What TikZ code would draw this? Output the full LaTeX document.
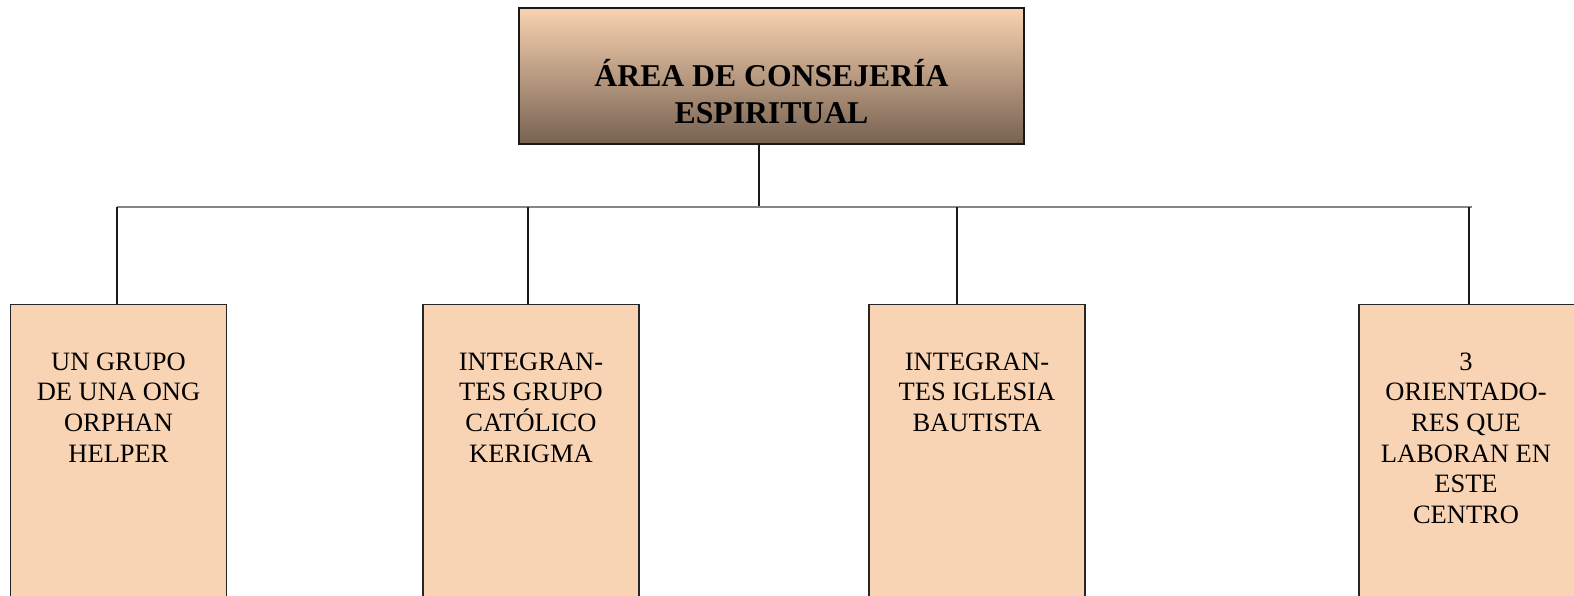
\documentclass[tikz,border=0pt]{standalone}
\usepackage{fontspec}
\setmainfont{Liberation Serif}
\definecolor{peach}{HTML}{F9D4B4}
\definecolor{peachtop}{HTML}{F9D2B1}
\definecolor{umber}{HTML}{766251}
\definecolor{busgray}{HTML}{858585}
\begin{document}
\begin{tikzpicture}[x=1pt,y=-1pt,
    topbox/.style={draw=black!90,line width=1.2pt,top color=peachtop,bottom color=umber,
      minimum width=505pt,minimum height=136pt,inner sep=0pt},
    subbox/.style={draw=black!85,line width=1.2pt,fill=peach,anchor=north,
      minimum width=216pt,minimum height=320pt,inner sep=0pt},
    toptext/.style={inner sep=0pt,anchor=north,align=center,font=\fontsize{31.7}{36.8}\selectfont\bfseries},
    subtext/.style={inner sep=0pt,anchor=north,align=center,font=\fontsize{26.5}{30.6}\selectfont},
    conn/.style={line width=1.3pt,black!90},
    bus/.style={line width=1.5pt,busgray}]
    \clip (0,0) rectangle (1574,596);
    \node[topbox] (area) at (771.5,76) {};
    \node[toptext] (areat) at (771.5,59) {ÁREA DE CONSEJERÍA\\ESPIRITUAL};
    \node[subbox] (ong) at (118.5,304) {};
    \node[subbox] (kerigma) at (531,304) {};
    \node[subbox] (bautista) at (977,304) {};
    \node[subbox] (orient) at (1467,304) {};
    \node[subtext] (ongt) at (118.5,352.5) {UN GRUPO\\DE UNA ONG\\ORPHAN\\HELPER};
    \node[subtext] (kerigmat) at (531,352.5) {INTEGRAN-\\TES GRUPO\\CATÓLICO\\KERIGMA};
    \node[subtext] (bautistat) at (977,352.5) {INTEGRAN-\\TES IGLESIA\\BAUTISTA};
    \node[subtext] (orientt) at (1466,352.5) {3\\ORIENTADO-\\RES QUE\\LABORAN EN\\ESTE\\CENTRO};
    \coordinate (hub) at (759,207);
    \coordinate (d1) at (117,207);
    \coordinate (d2) at (528,207);
    \coordinate (d3) at (957,207);
    \coordinate (d4) at (1469,207);
    \coordinate (busend) at (1472,207);
    \draw[conn] (hub |- area.south) -- (hub);
    \draw[bus] (d1) -- (busend);
    \draw[conn] (d1) -- (d1 |- ong.north);
    \draw[conn] (d2) -- (d2 |- kerigma.north);
    \draw[conn] (d3) -- (d3 |- bautista.north);
    \draw[conn] (d4) -- (d4 |- orient.north);
\end{tikzpicture}
\end{document}
